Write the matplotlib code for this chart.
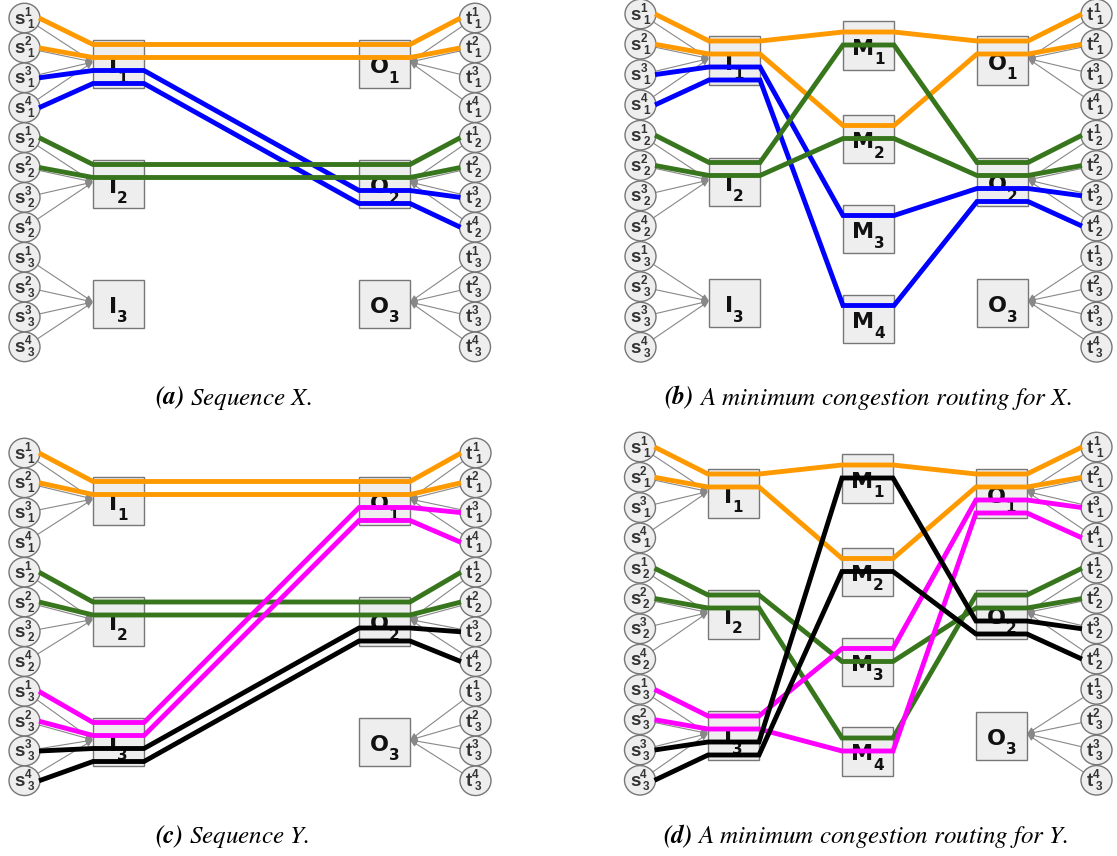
import numpy as np
import matplotlib.pyplot as plt
from matplotlib.patches import Ellipse, Rectangle, FancyArrowPatch

plt.rcParams['mathtext.fontset'] = 'stix'

# 颜色
COLORS = {'orange': '#ff9900', 'blue': '#0000ff', 'green': '#38761d',
          'magenta': '#ff00ff', 'black': '#000000'}

# 路由数据: (颜色, 源 s^sup_sub, [(盒子, 编号, 槽位), ...], 目标 t^sup_sub)
routes_a = [
    ('orange', (1, 1), [('I', 1, 0), ('O', 1, 0)], (1, 1)),
    ('orange', (2, 1), [('I', 1, 1), ('O', 1, 1)], (2, 1)),
    ('blue', (3, 1), [('I', 1, 2), ('O', 2, 2)], (3, 2)),
    ('blue', (4, 1), [('I', 1, 3), ('O', 2, 3)], (4, 2)),
    ('green', (1, 2), [('I', 2, 0), ('O', 2, 0)], (1, 2)),
    ('green', (2, 2), [('I', 2, 1), ('O', 2, 1)], (2, 2)),
]
routes_b = [
    ('orange', (1, 1), [('I', 1, 0), ('M', 1, 0), ('O', 1, 0)], (1, 1)),
    ('orange', (2, 1), [('I', 1, 1), ('M', 2, 0), ('O', 1, 1)], (2, 1)),
    ('blue', (3, 1), [('I', 1, 2), ('M', 3, 0), ('O', 2, 2)], (3, 2)),
    ('blue', (4, 1), [('I', 1, 3), ('M', 4, 0), ('O', 2, 3)], (4, 2)),
    ('green', (1, 2), [('I', 2, 0), ('M', 1, 1), ('O', 2, 0)], (1, 2)),
    ('green', (2, 2), [('I', 2, 1), ('M', 2, 1), ('O', 2, 1)], (2, 2)),
]
routes_c = [
    ('orange', (1, 1), [('I', 1, 0), ('O', 1, 0)], (1, 1)),
    ('orange', (2, 1), [('I', 1, 1), ('O', 1, 1)], (2, 1)),
    ('green', (1, 2), [('I', 2, 0), ('O', 2, 0)], (1, 2)),
    ('green', (2, 2), [('I', 2, 1), ('O', 2, 1)], (2, 2)),
    ('magenta', (1, 3), [('I', 3, 0), ('O', 1, 2)], (3, 1)),
    ('magenta', (2, 3), [('I', 3, 1), ('O', 1, 3)], (4, 1)),
    ('black', (3, 3), [('I', 3, 2), ('O', 2, 2)], (3, 2)),
    ('black', (4, 3), [('I', 3, 3), ('O', 2, 3)], (4, 2)),
]
routes_d = [
    ('orange', (1, 1), [('I', 1, 0), ('M', 1, 0), ('O', 1, 0)], (1, 1)),
    ('orange', (2, 1), [('I', 1, 1), ('M', 2, 0), ('O', 1, 1)], (2, 1)),
    ('green', (1, 2), [('I', 2, 0), ('M', 3, 1), ('O', 2, 1)], (2, 2)),
    ('green', (2, 2), [('I', 2, 1), ('M', 4, 0), ('O', 2, 0)], (1, 2)),
    ('magenta', (1, 3), [('I', 3, 0), ('M', 3, 0), ('O', 1, 2)], (3, 1)),
    ('magenta', (2, 3), [('I', 3, 1), ('M', 4, 1), ('O', 1, 3)], (4, 1)),
    ('black', (3, 3), [('I', 3, 2), ('M', 1, 1), ('O', 2, 2)], (3, 2)),
    ('black', (4, 3), [('I', 3, 3), ('M', 2, 1), ('O', 2, 3)], (4, 2)),
]

captions = [('(a)', ' Sequence $X$.'),
            ('(b)', ' A minimum congestion routing for $X$.'),
            ('(c)', ' Sequence $Y$.'),
            ('(d)', ' A minimum congestion routing for $Y$.')]

# 布局 (像素坐标)
panels = [
    dict(routes=routes_a, x={'s': 24.5, 'I': 118.5, 'O': 384.5, 't': 475},
         y0=18, dy=29.9, boxes={'I': [64, 184, 304], 'O': [64, 184, 304]},
         cap=captions[0], cap_xy=(233.5, 404.5)),
    dict(routes=routes_b, x={'s': 640.5, 'I': 734.5, 'M': 868.5, 'O': 1002.5, 't': 1096.5},
         y0=14, dy=30.3, boxes={'I': [60.5, 182, 303], 'M': [45.5, 139, 229, 319],
                               'O': [60.5, 182, 303]},
         cap=captions[1], cap_xy=(868, 404.5)),
    dict(routes=routes_c, x={'s': 24.5, 'I': 118.5, 'O': 384.5, 't': 475.5},
         y0=453, dy=29.8, boxes={'I': [501, 621.5, 742], 'O': [501, 621.5, 742]},
         cap=captions[2], cap_xy=(232.5, 843)),
    dict(routes=routes_d, x={'s': 640, 'I': 733.5, 'M': 867.5, 'O': 1001.5, 't': 1096.5},
         y0=447, dy=30.3, boxes={'I': [493.5, 614.5, 735.5], 'M': [478.5, 572, 662, 751.5],
                               'O': [493.5, 614.5, 736]},
         cap=captions[3], cap_xy=(866, 843)),
]

BW, BH = 51, 48.5          # 盒子尺寸
CW, CH = 31, 29.5          # 圆尺寸
R = CW / 2
BOX_SLOTS = [-19.5, -6.5, 6.5, 19.5]
MID_SLOTS = [-13.5, -0.5]
GRAY = '#777777'
FILL = '#eeeeee'
SANS = 'Liberation Sans'

W, H = 1117, 856
fig = plt.figure(figsize=(W / 100, H / 100), dpi=100)
ax = fig.add_axes([0, 0, 1, 1])
ax.set_xlim(0, W)
ax.set_ylim(H, 0)
ax.axis('off')
renderer = fig.canvas.get_renderer()


def text_w(t):
    return t.get_window_extent(renderer).width


def circle_node(cx, cy, letter, sup, sub):
    ax.add_patch(Ellipse((cx, cy), CW, CH, facecolor=FILL, edgecolor=GRAY, lw=1.0, zorder=2))
    kw = dict(family=SANS, fontweight='bold', color='#333333', ha='left', va='baseline', zorder=3)
    tb = ax.text(cx, cy + 5.5, letter, fontsize=13.5, **kw)
    tp = ax.text(cx, cy - 2.5, str(sup), fontsize=8.5, **kw)
    ts = ax.text(cx, cy + 9.5, str(sub), fontsize=8.5, **kw)
    wb, ws = text_w(tb), text_w(tp)
    x0 = cx - (wb + ws + 3) / 2 - (1.5 if letter == 't' else 0)
    tb.set_x(x0)
    tp.set_x(x0 + wb - 0.5)
    ts.set_x(x0 + wb + 2.5)


def box_node(cx, cy, letter, num):
    ax.add_patch(Rectangle((cx - BW / 2, cy - BH / 2), BW, BH, facecolor=FILL,
                           edgecolor=GRAY, lw=1.0, zorder=2))
    kw = dict(family='DejaVu Sans', fontweight='bold', color='#111111', ha='left',
              va='baseline', zorder=3)
    tb = ax.text(cx, cy + 9, letter, fontsize=16, **kw)
    ts = ax.text(cx, cy + 18.5, str(num), fontsize=11, **kw)
    wb, ws = text_w(tb), text_w(ts)
    x0 = cx - (wb + ws) / 2
    tb.set_x(x0)
    ts.set_x(x0 + wb)


def gray_arrow(p_from, p_to):
    v = np.array(p_to) - np.array(p_from)
    u = v / np.linalg.norm(v)
    start = np.array(p_from) + u * np.array([R, CH / 2])
    ax.add_patch(FancyArrowPatch(start, p_to, arrowstyle='-|>,head_length=4,head_width=1.8',
                                 color='#888888', lw=0.8, shrinkA=0, shrinkB=0, zorder=1))


for p in panels:
    xs, y0, dy, boxes = p['x'], p['y0'], p['dy'], p['boxes']

    def cy_of(sup, sub):
        return y0 + ((sub - 1) * 4 + (sup - 1)) * dy

    # 源和汇
    for sub in range(1, 4):
        for sup in range(1, 5):
            cy = cy_of(sup, sub)
            gray_arrow((xs['s'], cy), (xs['I'] - BW / 2, boxes['I'][sub - 1] - 2))
            gray_arrow((xs['t'], cy), (xs['O'] + BW / 2, boxes['O'][sub - 1] - 2))
            circle_node(xs['s'], cy, 's', sup, sub)
            circle_node(xs['t'], cy, 't', sup, sub)

    # 盒子
    for name, centers in boxes.items():
        for k, cy in enumerate(centers):
            box_node(xs[name], cy, name, k + 1)

    # 路由线
    for color, src, hops, dst in p['routes']:
        pts = [(xs['s'] + R - 1, cy_of(*src))]
        for name, k, slot in hops:
            y = boxes[name][k - 1] + (MID_SLOTS if name == 'M' else BOX_SLOTS)[slot]
            pts += [(xs[name] - BW / 2, y), (xs[name] + BW / 2, y)]
        pts.append((xs['t'] - R + 1, cy_of(*dst)))
        pts = np.array(pts)
        ax.plot(pts[:, 0], pts[:, 1], color=COLORS[color], lw=3.5,
                solid_capstyle='butt', solid_joinstyle='miter', zorder=4)

    # 标题
    lab, rest = p['cap']
    cx, by = p['cap_xy']
    t1 = ax.text(cx, by, lab, family='STIXGeneral', style='italic', fontweight='bold',
                 fontsize=18, ha='left', va='baseline')
    t2 = ax.text(cx, by, rest, family='STIXGeneral', style='italic',
                 fontsize=18, ha='left', va='baseline')
    w1, w2 = text_w(t1), text_w(t2)
    x0 = cx - (w1 + w2) / 2
    t1.set_x(x0)
    t2.set_x(x0 + w1)

fig.savefig('out.png', dpi=100)
